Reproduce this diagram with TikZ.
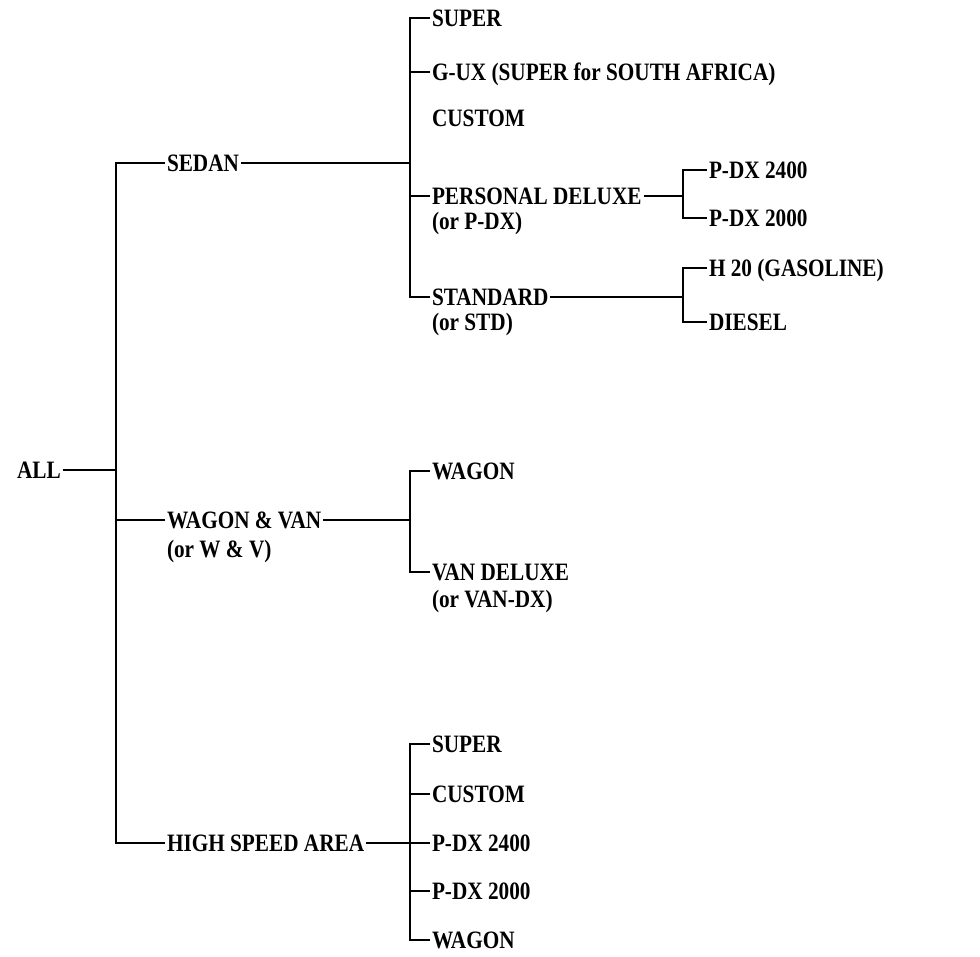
\documentclass[tikz,border=0pt]{standalone}
\usepackage{fontspec}
\newfontfamily\diagfont{Liberation Serif}[FakeStretch=0.85]
\begin{document}
\begin{tikzpicture}[x=1pt,y=-1pt,
  lbl/.style={anchor=west,inner sep=0pt,outer sep=2pt,text height=16.5pt,text depth=0pt,
    font=\diagfont\bfseries\fontsize{25}{27}\selectfont},
  conn/.style={line width=1.7pt,line join=miter,line cap=butt}]
\useasboundingbox[fill=white] (0,0) rectangle (980,956);
% level 0
\node[lbl] (all) at (15,470) {ALL};
% level 1
\node[lbl] (sedan) at (165,163) {SEDAN};
\node[lbl] (wv) at (165,520) {WAGON \& VAN};
\node[lbl] (wvsub) at (165,549) {(or W \& V)};
\node[lbl] (hsa) at (165,843) {HIGH SPEED AREA};
% sedan children
\node[lbl] (ssuper) at (430,18) {SUPER};
\node[lbl] (sgux) at (430,72) {G-UX (SUPER for SOUTH AFRICA)};
\node[lbl] (scustom) at (430,118) {CUSTOM};
\node[lbl] (spdx) at (430,196) {PERSONAL DELUXE};
\node[lbl] (spdxsub) at (430,221) {(or P-DX)};
\node[lbl] (sstd) at (430,297) {STANDARD};
\node[lbl] (sstdsub) at (430,322) {(or STD)};
% level 3
\node[lbl] (p24) at (707,170) {P-DX 2400};
\node[lbl] (p20) at (707,218) {P-DX 2000};
\node[lbl] (h20) at (707,268) {H 20 (GASOLINE)};
\node[lbl] (diesel) at (707,322) {DIESEL};
% wagon & van children
\node[lbl] (wwagon) at (430,471) {WAGON};
\node[lbl] (wvdx) at (430,572) {VAN DELUXE};
\node[lbl] (wvdxsub) at (430,599) {(or VAN-DX)};
% high speed area children
\node[lbl] (hsuper) at (430,744) {SUPER};
\node[lbl] (hcustom) at (430,794) {CUSTOM};
\node[lbl] (hp24) at (430,843) {P-DX 2400};
\node[lbl] (hp20) at (430,891) {P-DX 2000};
\node[lbl] (hwagon) at (430,940) {WAGON};
% junction coordinates
\coordinate (j0) at (116,470);
\coordinate (j1) at (410,163);
\coordinate (j2) at (410,520);
\coordinate (j3) at (410,843);
\coordinate (j4) at (683,196);
\coordinate (j5) at (683,297);
% connectors level 0 -> 1
\draw[conn] (all.east) -- (all.east -| j0);
\draw[conn] (sedan.west) -| (j0) |- (hsa.west);
\draw[conn] (wv.west) -- (wv.west -| j0);
% sedan
\draw[conn] (sedan.east) -- (j1);
\draw[conn] (ssuper.west) -| (j1) |- (sstd.west);
\draw[conn] (sgux.west) -- (sgux.west -| j1);
\draw[conn] (spdx.west) -- (spdx.west -| j1);
% personal deluxe
\draw[conn] (spdx.east) -- (j4);
\draw[conn] (p24.west) -| (j4) |- (p20.west);
% standard
\draw[conn] (sstd.east) -- (j5);
\draw[conn] (h20.west) -| (j5) |- (diesel.west);
% wagon & van
\draw[conn] (wv.east) -- (j2);
\draw[conn] (wwagon.west) -| (j2) |- (wvdx.west);
% high speed area
\draw[conn] (hsa.east) -- (hp24.west);
\draw[conn] (hsuper.west) -| (j3) |- (hwagon.west);
\draw[conn] (hcustom.west) -- (hcustom.west -| j3);
\draw[conn] (hp20.west) -- (hp20.west -| j3);
\end{tikzpicture}
\end{document}
